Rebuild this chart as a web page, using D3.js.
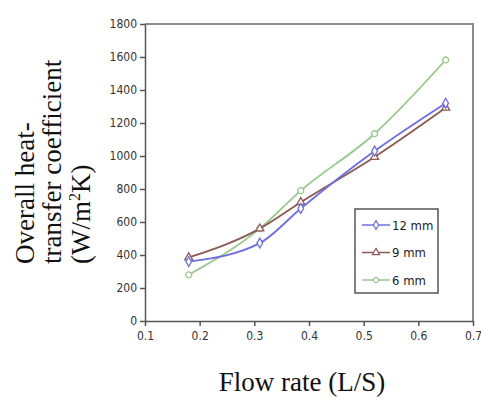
<!DOCTYPE html>
<html>
<head>
<meta charset="utf-8">
<script src="https://cdn.jsdelivr.net/npm/d3@7"></script>
<style>
  body { margin: 0; background: #fff; }
  .axis text { font-family: "Liberation Sans Narrow", "DejaVu Sans Condensed", "Liberation Sans", Arial, sans-serif; font-size: 12px; fill: #333; }
  .axis path, .axis line { stroke: #555; stroke-width: 1.5; }
  .title { font-family: "Liberation Serif", "Times New Roman", serif; fill: #111; }
</style>
</head>
<body>
<svg id="chart" width="481" height="401"></svg>
<script>
// flow rate (L/S)
const flowRates = [0.18, 0.31, 0.385, 0.52, 0.65];

// overall heat-transfer coefficient, W/m2K
const mm12 = [360, 472, 682, 1030, 1320];
const mm9 = [385, 560, 720, 994, 1292];
const mm6 = [280, 560, 790, 1135, 1582];

const seriesNames = ['12 mm', '9 mm', '6 mm'];
const xTicks = [0.1, 0.2, 0.3, 0.4, 0.5, 0.6, 0.7];
const yTicks = [0, 200, 400, 600, 800, 1000, 1200, 1400, 1600, 1800];

const colors = ['#6e6ee0', '#8c5a52', '#96c88a'];
const shapes = [d3.symbolDiamond, d3.symbolTriangle, d3.symbolCircle];

const margin = {left: 145, top: 24, right: 8, bottom: 80};
const width = 481, height = 401;

const svg = d3.select('#chart');

const x = d3.scaleLinear().domain([0.1, 0.7]).range([margin.left, width - margin.right]);
const y = d3.scaleLinear().domain([0, 1800]).range([height - margin.bottom, margin.top]);

// frame (top + right)
svg.append('path')
   .attr('d', `M${x(0.1)},${y(1800)}H${x(0.7)}V${y(0)}`)
   .attr('fill', 'none')
   .attr('stroke', '#8a8a8a')
   .attr('stroke-width', 2);

svg.append('g')
   .attr('class', 'axis')
   .attr('transform', `translate(0,${y(0)})`)
   .call(d3.axisBottom(x).tickValues(xTicks).tickFormat(d3.format('.1f')).tickSize(5).tickPadding(5).tickSizeOuter(0));

svg.append('g')
   .attr('class', 'axis')
   .attr('transform', `translate(${x(0.1)},0)`)
   .call(d3.axisLeft(y).tickValues(yTicks).tickFormat(d3.format('d')).tickSize(5).tickPadding(3).tickSizeOuter(0));

const series = [mm12, mm9, mm6].map((vals, i) => ({
  name: seriesNames[i],
  color: colors[i],
  shape: shapes[i],
  points: vals.map((v, j) => ({x: flowRates[j], y: v}))
}));

const line = d3.line()
               .x(d => x(d.x))
               .y(d => y(d.y))
               .curve(d3.curveMonotoneX);

// draw 6mm first so 12mm/9mm sit on top
series.slice().reverse().forEach(s => {
  svg.append('path')
     .datum(s.points)
     .attr('d', line)
     .attr('fill', 'none')
     .attr('stroke', s.color)
     .attr('stroke-width', 1.8);

  svg.selectAll(null)
     .data(s.points)
     .enter()
     .append('path')
     .attr('transform', d => `translate(${x(d.x)},${y(d.y)})`)
     .attr('d', d3.symbol().type(s.shape).size(28))
     .attr('fill', '#fff')
     .attr('stroke', s.color)
     .attr('stroke-width', 1.3);
});

// legend
const lg = svg.append('g').attr('transform', 'translate(355,209)');
lg.append('rect')
  .attr('width', 83)
  .attr('height', 84)
  .attr('fill', '#fff')
  .attr('stroke', '#555')
  .attr('stroke-width', 1.5);

series.forEach((s, i) => {
  const row = lg.append('g').attr('transform', `translate(0,${16 + i * 27.5})`);
  row.append('line')
     .attr('x1', 7).attr('x2', 35)
     .attr('stroke', s.color).attr('stroke-width', 1.5);
  row.append('path')
     .attr('transform', 'translate(21,0)')
     .attr('d', d3.symbol().type(s.shape).size(22))
     .attr('fill', '#fff')
     .attr('stroke', s.color)
     .attr('stroke-width', 1.2);
  row.append('text')
     .attr('x', 37)
     .attr('dy', '0.35em')
     .style('font-family', '"Liberation Sans Narrow", "DejaVu Sans Condensed", "Liberation Sans", Arial, sans-serif')
     .style('font-size', '13px')
     .attr('fill', '#222')
     .text(s.name);
});

// axis titles
svg.append('text')
   .attr('class', 'title')
   .attr('x', 302)
   .attr('y', 391)
   .attr('text-anchor', 'middle')
   .style('font-size', '27px')
   .text('Flow rate (L/S)');

const yTitle = svg.append('text')
   .attr('class', 'title')
   .attr('transform', 'translate(0,264) rotate(-90)')
   .style('font-size', '27px');

yTitle.append('tspan').attr('x', 0).attr('y', 34).text('Overall heat-');
yTitle.append('tspan').attr('x', 0).attr('y', 61).text('transfer coefficient');
const l3 = yTitle.append('tspan').attr('x', 0).attr('y', 90);
l3.append('tspan').text('(W/m');
l3.append('tspan').attr('dy', -10).style('font-size', '16px').text('2');
l3.append('tspan').attr('dy', 10).text('K)');
</script>
</body>
</html>
